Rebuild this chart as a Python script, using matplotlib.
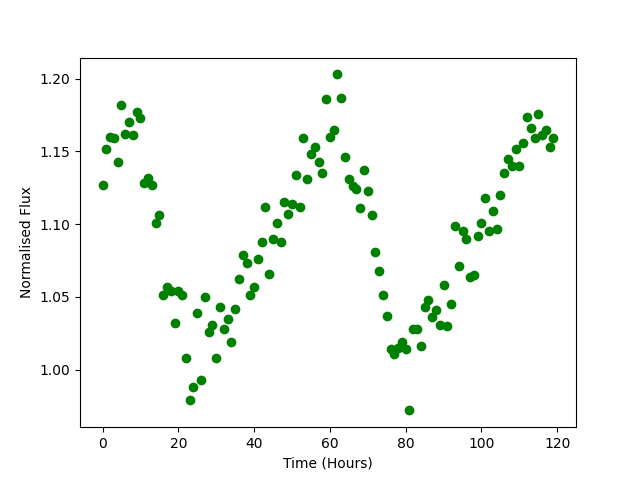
import numpy as np
from matplotlib import pyplot as plt

# time in hours, one reading per hour
time_hours = np.arange(120)

flux = [
    1.127, 1.152, 1.160, 1.159, 1.143, 1.182, 1.162, 1.170, 1.161, 1.177,
    1.173, 1.128, 1.132, 1.127, 1.101, 1.106, 1.051, 1.057, 1.054, 1.032,
    1.054, 1.051, 1.008, 0.979, 0.988, 1.039, 0.993, 1.050, 1.026, 1.031,
    1.008, 1.043, 1.028, 1.035, 1.019, 1.042, 1.062, 1.079, 1.073, 1.051,
    1.057, 1.076, 1.088, 1.112, 1.066, 1.090, 1.101, 1.088, 1.115, 1.107,
    1.114, 1.134, 1.112, 1.159, 1.131, 1.148, 1.153, 1.143, 1.135, 1.186,
    1.160, 1.165, 1.203, 1.187, 1.146, 1.131, 1.126, 1.124, 1.111, 1.137,
    1.123, 1.106, 1.081, 1.068, 1.051, 1.037, 1.014, 1.011, 1.015, 1.019,
    1.014, 0.972, 1.028, 1.028, 1.016, 1.043, 1.048, 1.036, 1.041, 1.031,
    1.058, 1.030, 1.045, 1.099, 1.071, 1.095, 1.090, 1.064, 1.065, 1.092,
    1.101, 1.118, 1.095, 1.109, 1.097, 1.120, 1.135, 1.145, 1.140, 1.152,
    1.140, 1.156, 1.174, 1.166, 1.159, 1.176, 1.161, 1.165, 1.153, 1.159,
]

plt.figure(figsize=(6.4, 4.8), dpi=100)
plt.plot(time_hours, flux, 'o', color='green')
plt.xlabel('Time (Hours)')
plt.ylabel('Normalised Flux')
plt.savefig('out.png')
